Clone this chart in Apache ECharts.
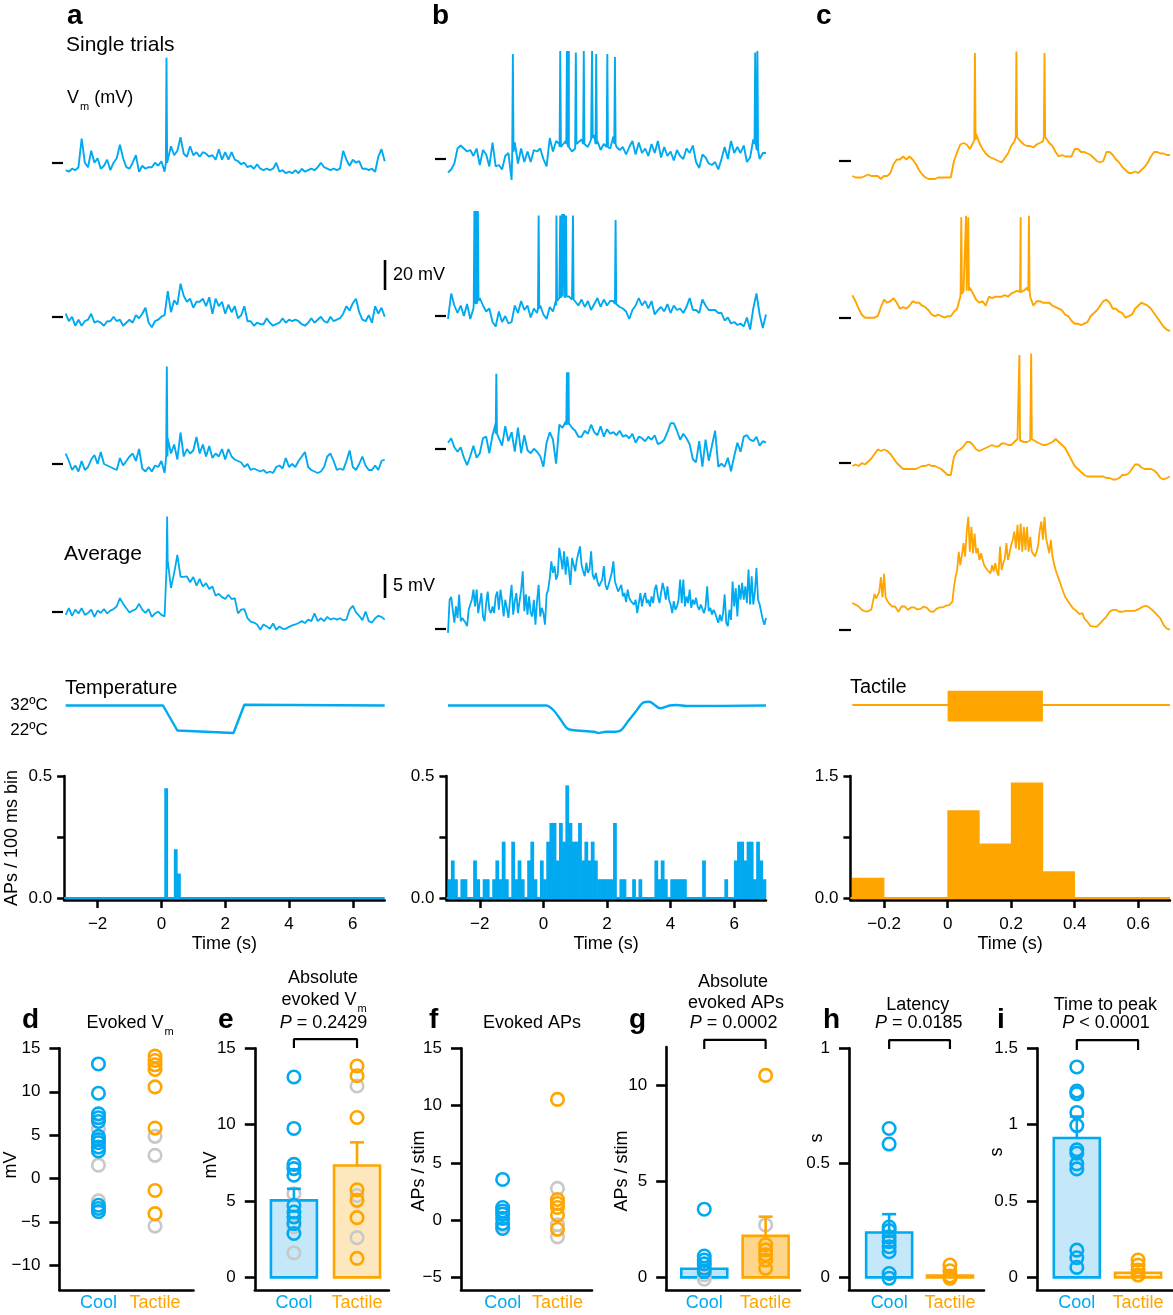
<!DOCTYPE html>
<html>
<head>
<meta charset="utf-8">
<script src="https://cdn.jsdelivr.net/npm/echarts@6/dist/echarts.min.js"></script>
<style>
html,body{margin:0;padding:0;background:#fff;}
#chart{width:1173px;height:1315px;}
</style>
</head>
<body>
<div id="chart"></div>
<script>
// ================= DATA =================
// Membrane potential traces, mV relative to the dash marker, regular sampling.
// Spikes: [time s, peak mV, base mV]
const a1 = [-5,-6,-4,-5,-3,16,0,-3,8,0, 3,-4,-2,2,-5,0,3,12,3,-3, -4,0,5,-6,-2,-4,-3,-3,0,-2, 1,-6,2,11,5,8,17,6,4,11, 5,7,4,7,6,4,5,2,9,2, 7,2,7,2,1,-1,0,-3,-2,-4, -1,-4,-5,-4,-5,-4,0,-6,-5,-7, -6,-7,-5,-7,-4,-6,-5,-4,-5,-3, 0,-3,-4,-5,-4,-5,-4,8,2,-2, 2,0,1,-4,-4,-5,-4,-6,4,9, 1];
const a1Spk = [[0.16,70,0]];
const a2 = [2,-3,0,-6,-2,-6,-3,-2,2,-4, -3,-4,-6,-3,-3,0,-3,-2,-6,-4, -2,-4,1,-1,2,6,-4,-7,-3,-2, 0,1,17,3,11,8,22,14,10,12, 6,10,10,12,7,13,2,12,7,10, 2,8,3,7,-1,1,7,-3,-3,-6, -4,-5,-5,-1,-4,-6,-5,-4,-1,-4, -2,-3,-2,-3,-5,-6,-4,-1,-4,-2, 0,-3,-4,0,-3,-2,-1,2,7,4, 9,12,3,-2,-3,1,-4,7,2,6, 0];
const a2Spk = [];
const a3 = [7,2,-4,-1,-5,2,-4,-2,3,6, 0,8,0,-1,-2,-3,-4,4,-1,2, 5,7,2,10,-3,-5,-2,-5,-1,-2, 2,-6,17,7,13,3,21,5,10,7, 9,18,7,13,5,12,4,7,5,10, 3,10,5,3,2,1,-2,0,-4,-3, -4,-5,-4,-6,-5,-6,-2,-1,-3,4, -2,0,-2,2,5,8,-2,-4,-5,-6, -5,-2,5,7,2,-4,-3,-4,2,9, -2,-4,0,5,-1,-4,-4,-1,-4,2, 3];
const a3Spk = [[0.17,65,5]];
const aAvg = [-0.6,0.8,-0.8,0.5,-0.3,0.8,-0.6,-0.2,0.5,-1.0, 0.3,-0.2,0.6,-0.3,0.3,0.6,1.2,2.9,1.7,0.8, -0.1,0.3,0.6,1.7,0.5,-0.2,0.6,-1.0,-0.3,0.1, -0.6,-0.9,10.6,5.0,8.1,11.9,7.3,7.3,7.4,6.2, 7.3,5.5,6.9,5.3,6.0,4.8,5.3,3.4,3.8,3.1, 2.7,3.6,2.7,2.9,-0.3,0.5,0.6,-1.3,-2.0,-2.2, -2.6,-3.7,-2.6,-3.0,-3.5,-2.4,-3.7,-3.0,-3.5,-3.5, -3.1,-2.8,-2.6,-2.3,-1.9,-2.3,-1.6,-1.9,-0.3,-1.9, -1.3,-1.9,-1.0,-1.6,-1.3,-1.6,-1.3,-1.7,-1.6,0.5, 1.3,-0.1,-0.8,-1.7,0.1,-1.9,-2.2,-1.3,-0.8,-1.0, -1.6];
const aAvgSpk = [[0.18,19.9,9]];

const b1 = [-9,-7,-3,7,9,7,5,6,2,7, -4,6,3,-5,11,-5,-4,-7,2,4, -14,11,-3,7,-2,5,-2,6,5,7, 0,-5,14,5,12,10,8,12,8,5, 7,11,13,10,8,13,16,12,6,10, 7,7,15,8,6,8,3,8,12,3, 11,4,7,2,10,4,12,1,8,2, 5,-1,6,2,0,7,4,9,-2,-6, 3,1,-3,-4,-2,-7,0,8,0,12, 4,8,4,9,-2,1,13,11,0,4, 4];
const b1Spk = [[-0.96,70,5],[0.53,72,8],[0.74,72,10],[0.80,72,8],[1.02,71,10],[1.27,72,10],[1.53,72,14],[1.66,70,10],[2.01,70,8],[2.25,68,10],[6.66,71,10],[6.73,72,6]];
const b2 = [-2,15,7,2,7,0,8,-2,5,10, 12,7,3,5,-4,-7,3,-4,0,-5, -4,7,2,10,4,7,-1,5,2,7, 1,-2,6,3,7,12,13,13,13,11, 12,7,11,6,10,4,8,12,6,11, 7,10,10,8,6,5,3,-2,4,7, 12,7,10,5,10,1,4,6,3,8, 2,7,4,5,2,6,12,4,4,2, 11,7,4,4,4,2,2,-3,-1,-5, -4,-6,-5,-7,-1,-9,5,15,1,-8, 1];
const b2Spk = [[-2.17,70,8],[-2.12,70,8],[-2.06,70,10],[-0.15,67,5],[0.41,67,10],[0.53,67,12],[0.59,68,12],[0.65,68,12],[0.71,67,13],[0.93,67,11],[2.27,64,8]];
const b3 = [4,7,1,-2,1,-6,-11,-5,2,-6, -3,7,8,-3,9,17,9,2,15,5, 11,-2,14,-3,9,-1,-3,0,-2,-5, -12,4,11,6,-10,16,14,18,17,14, 12,8,8,12,10,16,11,9,15,8, 13,10,11,9,12,8,9,7,10,4, 8,7,5,8,6,9,3,4,6,11, 17,17,12,6,10,7,3,-7,-9,5, -12,6,-8,2,12,-12,-10,-12,-6,-15, -5,4,-2,8,9,6,5,8,2,5, 4];
const b3Spk = [[-1.48,50,10],[0.74,51,16],[0.79,51,16]];
const bAvg = [-0.8,6.1,6.7,4.0,1.3,4.7,2.3,7.2,1.6,2.3, 2.6,1.3,0.6,4.0,5.1,6.1,8.2,4.7,8.2,3.3, 5.4,7.5,2.6,1.6,5.4,7.8,4.0,3.3,4.7,3.3, 6.8,7.8,4.0,8.2,5.8,2.6,6.1,4.4,2.3,6.1, 9.2,3.0,5.8,7.5,3.3,3.3,8.2,12.0,3.7,7.2, 3.0,6.8,3.3,2.6,6.1,0.9,5.8,9.2,2.6,4.4, 3.3,0.9,7.2,8.2,10.6,14.1,11.7,13.1,10.3,11.3, 16.9,14.8,12.4,16.2,11.3,15.1,12.4,9.2,14.8,13.4, 12.0,14.4,14.4,17.2,13.4,12.0,11.0,13.8,11.7,12.4, 16.2,11.3,10.3,11.7,9.9,8.9,8.9,10.3,13.1,9.2, 8.2,9.2,9.6,11.7,14.1,9.9,10.3,7.8,8.2,9.2, 6.8,7.5,5.6,8.2,6.5,5.8,6.1,5.1,6.1,3.3, 5.4,7.5,4.7,6.5,7.5,5.4,6.1,4.7,6.8,5.4, 8.2,9.2,6.8,5.4,7.5,9.6,8.2,6.1,8.9,6.1, 5.1,3.3,5.8,4.0,4.7,6.1,10.3,5.4,10.3,4.7, 6.8,5.4,8.2,4.4,6.1,5.1,6.5,4.7,4.0,5.1, 4.7,3.3,4.7,8.9,3.7,4.4,3.0,4.0,3.3,2.3, 1.3,3.0,1.6,3.3,7.2,1.3,0.6,4.0,1.9,9.9, 4.7,8.5,2.6,9.2,6.1,9.6,6.1,8.9,5.4,12.4, 5.1,11.0,5.1,7.8,12.7,6.1,5.1,5.1,1.9,0.9, 2.3];
const bAvgSpk = [];

const c1 = [-10,-11,-11,-11,-10,-9,-10,-10,-10,-12, -10,-10,-8,-2,1,1,3,1,3,1, -2,-6,-9,-11,-12,-12,-12,-11,-11,-11, -11,-11,0,6,11,12,11,8,12,18, 12,8,5,3,2,1,0,-1,2,5, 10,13,16,13,11,10,10,9,11,12, 13,16,12,10,6,3,4,3,3,3, 8,8,6,6,5,4,2,0,-1,0, 6,6,4,1,-1,-4,-6,-8,-8,-7, -8,-6,-4,-1,3,6,6,5,5,4, 4];
const c1Spk = [[0.086,72,14],[0.2165,73,16],[0.305,72,16]];
const c2 = [15,11,6,2,0,0,0,0,1,7, 12,10,11,13,10,6,7,6,8,11, 10,10,8,7,5,2,1,2,1,0, 1,1,4,6,14,18,22,20,16,12, 10,11,8,14,13,14,14,14,15,14, 16,17,18,17,18,20,14,8,11,11, 10,10,10,8,7,6,5,2,1,-2, -4,-4,-5,-4,-3,1,3,5,8,11, 12,10,6,6,4,3,0,1,2,6, 8,10,9,8,6,3,0,-3,-6,-8, -9];
const c2Spk = [[0.043,67,16],[0.058,68,18],[0.065,67,18],[0.230,67,17],[0.256,68,18]];
const c3 = [-2,-1,-2,0,-1,1,3,6,9,8, 9,8,6,3,0,-2,-4,-4,-4,-4, -4,-3,-2,-2,-1,-2,-2,-3,-4,-6, -8,-8,4,8,9,11,14,14,12,9, 8,9,10,11,12,11,11,13,13,12, 12,14,16,16,14,14,15,17,14,13, 12,12,13,14,16,14,12,10,6,2, -2,-4,-6,-8,-9,-9,-9,-9,-9,-9, -10,-10,-11,-11,-10,-8,-8,-7,-4,-1, -1,-3,-4,-4,-4,-5,-7,-10,-11,-10, -9];
const c3Spk = [[0.226,72,15],[0.263,73,16]];
const cAvg = [5.6,5.4,5.3,5.2,4.9,4.5,4.2,3.8,3.9,4.0, 3.9,3.8,4.3,5.9,7.5,6.6,6.2,8.0,11.0,6.8, 11.7,6.8,6.1,5.6,5.2,4.9,4.9,4.9,4.3,3.8, 4.0,4.9,4.9,4.9,4.7,4.2,4.3,4.7,4.9,4.7, 4.5,4.3,4.2,4.4,4.5,4.9,5.0,4.6,4.2,3.9, 3.6,3.8,4.0,4.4,4.7,4.7,4.5,4.7,5.0,5.1, 5.1,5.2,5.2,5.9,9.0,11.0,12.5,16.3,13.5,15.6, 18.1,15.3,20.3,23.6,16.3,21.5,16.0,20.1,16.0,17.0, 14.6,16.0,16.3,13.5,13.1,12.5,12.2,11.8,13.5,12.2, 13.9,12.2,11.3,17.4,12.5,13.9,14.9,18.1,14.6,16.0, 17.7,18.8,20.5,17.0,21.9,16.7,22.2,16.3,21.5,16.7, 21.5,16.3,19.4,16.3,16.0,15.3,16.3,17.7,20.8,22.6, 18.8,23.6,19.1,19.4,16.0,18.8,15.3,13.8,12.5,11.5, 10.6,9.7,8.7,7.8,6.9,6.4,5.9,5.4,5.0,4.5, 4.2,4.0,3.8,3.3,3.1,3.5,2.4,2.1,1.7,1.3, 0.8,0.7,0.7,0.7,0.7,1.0,1.4,1.7,2.1,2.4, 2.8,3.1,3.8,4.0,4.2,4.2,4.2,4.0,3.8,3.8, 3.8,3.9,4.0,4.2,4.0,4.2,4.0,3.8,4.0,4.2, 4.3,4.5,4.7,5.0,5.0,4.9,4.9,4.7,4.4,4.2, 3.8,3.5,3.1,2.8,2.4,1.7,1.0,0.7,0.3,0.2, 0.1];
const cAvgSpk = [];

// scale bars (mV, drawn in trace units)
const bar20 = [17.8, 37.8];   // 20 mV
const bar5 = [2.9, 7.9];      // 5 mV
const barT = 7.01;

// stimulus traces
const tempAT = [-3, 0.05, 0.5, 2.26, 2.6, 7];
const tempAV = [32, 32, 22, 21, 32.3, 32];
const tempBT = [-3, 0.08, 0.31, 0.55, 0.74, 0.9, 1.6, 1.72, 1.97, 2.2, 2.43, 2.65, 2.9, 3.13, 3.33, 3.5, 3.66, 3.97, 4.2, 4.5, 7];
const tempBV = [32, 32, 30.2, 26.2, 22.9, 22.2, 21.5, 21, 21.5, 21.5, 22, 25.5, 29.5, 33.1, 33.5, 32.2, 30.9, 32, 32.2, 31.8, 32];
const tactileOn = [0, 0.3];
const tactileEnv = [-1.1, 0.95];

// PSTHs (APs / 100 ms bin)
const haStart = [0.1, 0.4, 0.5];
const haVal = [0.45, 0.2, 0.1];
const hbTrials = 13;
const hbCounts = [1,2,1,0,1,1,0,0,2,1, 0,1,1,0,1,2,1,3,1,0, 3,1,2,1,0,2,3,1,0,2, 1,3,4,4,2,4,3,6,4,3, 3,4,2,3,2,3,2,1,1,1, 1,1,4,0,1,1,0,0,1,0, 1,0,0,0,0,2,1,2,1,0, 1,1,1,1,1,0,0,0,0,0, 2,0,0,0,0,0,0,1,0,0, 2,3,3,2,3,3,1,3,2,1];
const hcStart = [-0.3,-0.2,-0.1,0,0.1,0.2,0.3,0.4,0.5,0.6];
const hcVal = [0.25,0,0,1.08,0.67,1.42,0.33,0,0,0];

// summary panels
const categories = ['Cool', 'Tactile'];
const dCool = [13.2, 9.83, 7.46, 7.02, 6.58, 4.87, 4.5, 4.14, 3.64, 3.2, -3.06, -3.42, -3.79];
const dCoolGrey = [5.75, 1.56, -2.55];
const dTac = [14.1, 13.6, 13.1, 12.56, 10.56, 5.82, -1.35, -4.02];
const dTacGrey = [4.87, 2.69, -5.45];

const eCool = [13.12, 9.75, 7.4, 7.12, 6.69, 4.71, 4.28, 3.95, 3.52, 2.87];
const eCoolGrey = [5.47, 3.3, 1.6];
const eTac = [13.84, 13.2, 10.47, 5.73, 5.04, 3.91, 1.24];
const eTacGrey = [12.53, 5.36, 2.6];
const eMean = [5.04, 7.32];
const eSem = [0.76, 1.52];

const fCool = [3.55, 1.1, 0.8, 0.52, 0.15, -0.29, -0.73];
const fCoolGrey = [-0.44];
const fTac = [10.54, 1.8, 1.45, 1.1, 0.45, -0.8];
const fTacGrey = [2.77, -0.4, -1.46];

const gCool = [3.55, 1.11, 0.9, 0.7, 0.47, 0.29];
const gCoolGrey = [0.12, -0.1];
const gTac = [10.52, 1.7, 1.43, 1.17, 0.9, 0.47];
const gTacGrey = [2.73];
const gMean = [0.45, 2.16];
const gSem = [0.2, 1.0];

const hCool = [0.65, 0.582, 0.22, 0.204, 0.177, 0.156, 0.134, 0.112, 0.017, -0.004];
const hTac = [0.054, 0.029, 0.006, -0.004];
const hMean = [0.196, 0.008];
const hSem = [0.08, 0.01];

const iCool = [1.378, 1.22, 1.203, 1.08, 0.994, 0.835, 0.813, 0.743, 0.71, 0.178, 0.128, 0.065];
const iTac = [0.113, 0.08, 0.048, 0.015];
const iMean = [0.913, 0.03];
const iSem = [0.14, 0.012];

// significance brackets [leg bottom, top] in axis units
const eBracket = [15.02, 15.6];
const gBracket = [11.9, 12.37];
const hBracket = [0.997, 1.036];
const iBracket = [1.489, 1.554];

// ================= CHART =================
const BLUE = '#00A9F0', ORANGE = '#FFA500', GREY = '#C8C8C8', BLACK = '#000';
const FF = '"Liberation Sans", Arial, Helvetica, sans-serif';

const grids = [], xAxes = [], yAxes = [], series = [];
function addGrid(rect, xa, ya) {
  const gi = grids.length;
  grids.push(Object.assign({containLabel: false}, rect));
  xAxes.push(Object.assign({gridIndex: gi, type: 'value'}, xa));
  yAxes.push(Object.assign({gridIndex: gi, type: 'value'}, ya));
  return gi;
}
function fmtNum(v) { return (v < 0 ? '\u2212' : '') + String(Math.abs(v)); }
function traceData(t0, dt, vals, spikes) {
  const pts = vals.map((v, i) => [t0 + i * dt, v]);
  const w = dt * 0.2;
  spikes.forEach(s => { pts.push([s[0] - w, s[2]], [s[0], s[1]], [s[0] + w, s[2]]); });
  pts.sort((p, q) => p[0] - q[0]);
  return pts;
}

const COLS = {
  a: {left: 65.7, width: 319, x: [-3, 7], off: 2.7, len: 11},
  b: {left: 448, width: 318, x: [-3, 7], off: 2, len: 11},
  c: {left: 852.3, width: 317.7, x: [-0.3, 0.7], off: 1.3, len: 12}
};
const traceDefs = [
  ['a', 162.7, a1, a1Spk, false, -3, 0.1, BLUE],
  ['a', 316.7, a2, a2Spk, false, -3, 0.1, BLUE],
  ['a', 464, a3, a3Spk, false, -3, 0.1, BLUE],
  ['a', 612, aAvg, aAvgSpk, true, -3, 0.1, BLUE],
  ['b', 159, b1, b1Spk, false, -3, 0.1, BLUE],
  ['b', 316, b2, b2Spk, false, -3, 0.1, BLUE],
  ['b', 448.7, b3, b3Spk, false, -3, 0.1, BLUE],
  ['b', 629, bAvg, bAvgSpk, true, -3, 0.05, BLUE],
  ['c', 161, c1, c1Spk, false, -0.3, 0.01, ORANGE],
  ['c', 317.7, c2, c2Spk, false, -0.3, 0.01, ORANGE],
  ['c', 463, c3, c3Spk, false, -0.3, 0.01, ORANGE],
  ['c', 630, cAvg, cAvgSpk, true, -0.3, 0.005, ORANGE]
];
const traceGridIdx = [];
traceDefs.forEach(d => {
  const col = COLS[d[0]];
  const yr = d[4] ? [-6.25, 25] : [-20, 80];
  const gi = addGrid({left: col.left, width: col.width, top: d[1] - 120, height: 150},
    {min: col.x[0], max: col.x[1], show: false},
    {min: yr[0], max: yr[1], position: 'left', offset: col.off,
     axisLine: {show: false, onZero: false}, axisLabel: {show: false}, splitLine: {show: false},
     axisTick: {show: true, customValues: [0], length: col.len, lineStyle: {color: BLACK, width: 2.2}}});
  traceGridIdx.push(gi);
  series.push({type: 'line', xAxisIndex: gi, yAxisIndex: gi, data: traceData(d[5], d[6], d[2], d[3]),
    symbol: 'none', silent: true, lineStyle: {color: d[7], width: d[4] ? 1.8 : 1.9}, z: 2});
});
// scale bars
series.push({type: 'line', xAxisIndex: traceGridIdx[1], yAxisIndex: traceGridIdx[1], clip: false,
  data: [[barT, bar20[0]], [barT, bar20[1]]], symbol: 'none', silent: true, lineStyle: {color: BLACK, width: 2.6}});
series.push({type: 'line', xAxisIndex: traceGridIdx[3], yAxisIndex: traceGridIdx[3], clip: false,
  data: [[barT, bar5[0]], [barT, bar5[1]]], symbol: 'none', silent: true, lineStyle: {color: BLACK, width: 2.6}});

// stimulus traces
const gTA = addGrid({left: 65.7, width: 319, top: 690, height: 50}, {min: -3, max: 7, show: false},
  {min: 18.2, max: 38.2, axisLine: {show: false, onZero: false}, axisTick: {show: false}, splitLine: {show: false},
   axisLabel: {customValues: [22, 32], formatter: v => v + '\u00BAC', fontSize: 17, color: BLACK, fontFamily: FF, margin: 18,
     padding: [6, 0, 0, 0]}});
series.push({type: 'line', xAxisIndex: gTA, yAxisIndex: gTA, data: tempAT.map((t, k) => [t, tempAV[k]]),
  symbol: 'none', silent: true, lineStyle: {color: BLUE, width: 2.4}});
const gTB = addGrid({left: 448, width: 318, top: 690, height: 50}, {min: -3, max: 7, show: false},
  {min: 18.2, max: 38.2, show: false});
series.push({type: 'line', xAxisIndex: gTB, yAxisIndex: gTB, data: tempBT.map((t, k) => [t, tempBV[k]]),
  symbol: 'none', silent: true, smooth: 0.3, lineStyle: {color: BLUE, width: 2.4}});
const gTC = addGrid({left: 852.3, width: 317.7, top: 690, height: 50}, {min: -0.3, max: 0.7, show: false},
  {min: -2.333, max: 1, show: false});
series.push({type: 'line', xAxisIndex: gTC, yAxisIndex: gTC, data: [[-0.3, 0], [0.7, 0]],
  symbol: 'none', silent: true, lineStyle: {color: ORANGE, width: 2.2},
  markArea: {silent: true, itemStyle: {color: ORANGE, opacity: 1},
    data: [[{coord: [tactileOn[0], tactileEnv[0]]}, {coord: [tactileOn[1], tactileEnv[1]]}]]}});

// histograms
function xHist(min, max, ticks) {
  return {min, max,
    axisLine: {show: true, onZero: false, lineStyle: {color: BLACK, width: 2.5}},
    axisTick: {show: true, customValues: ticks, length: 8, lineStyle: {color: BLACK, width: 2.5}},
    axisLabel: {customValues: ticks, formatter: fmtNum, fontSize: 17, color: BLACK, fontFamily: FF, margin: 16},
    splitLine: {show: false}, name: 'Time (s)', nameLocation: 'middle', nameGap: 35,
    nameTextStyle: {fontSize: 18, color: BLACK, fontFamily: FF}};
}
function yHist(min, max, ticks, labels) {
  return {min, max,
    axisLine: {show: true, onZero: false, lineStyle: {color: BLACK, width: 2.5}},
    axisTick: {show: true, customValues: ticks, length: 7, lineStyle: {color: BLACK, width: 2.5}},
    axisLabel: {customValues: labels, formatter: v => v.toFixed(1), fontSize: 17, color: BLACK, fontFamily: FF, margin: 12},
    splitLine: {show: false}};
}
function histSeries(gi, starts, vals, width, color) {
  return {type: 'custom', xAxisIndex: gi, yAxisIndex: gi, silent: true, z: 3,
    data: starts.map((s, k) => [s, s + width, vals[k]]).filter(d => d[2] > 0),
    renderItem: (p, api) => {
      const a = api.coord([api.value(0), 0]), b = api.coord([api.value(1), api.value(2)]);
      return {type: 'rect', shape: {x: a[0] - 0.3, y: b[1], width: b[0] - a[0] + 0.6, height: a[1] - b[1]}, style: {fill: color}};
    }};
}
function baseLine(gi, x0, x1, color) {
  return {type: 'line', xAxisIndex: gi, yAxisIndex: gi, data: [[x0, 0], [x1, 0]], symbol: 'none', silent: true, z: 3,
    lineStyle: {color: color, width: 2.2}};
}
const gHA = addGrid({left: 64.1, width: 320.6, top: 776, height: 124}, xHist(-3.05, 7, [-2, 0, 2, 4, 6]), yHist(-0.0082, 0.5, [0, 0.25, 0.5], [0, 0.5]));
series.push(baseLine(gHA, -3.05, 7, BLUE));
series.push(histSeries(gHA, haStart, haVal, 0.1, BLUE));
const gHB = addGrid({left: 446.4, width: 319.6, top: 776, height: 124}, xHist(-3.05, 7, [-2, 0, 2, 4, 6]), yHist(-0.0082, 0.5, [0, 0.25, 0.5], [0, 0.5]));
series.push(baseLine(gHB, -3.05, 7, BLUE));
series.push(histSeries(gHB, hbCounts.map((c, j) => -3 + 0.1 * j), hbCounts.map(c => c / hbTrials), 0.1, BLUE));
const gHC = addGrid({left: 850.4, width: 319.6, top: 776, height: 124}, xHist(-0.306, 0.7, [-0.2, 0, 0.2, 0.4, 0.6]), yHist(-0.0246, 1.5, [0, 0.75, 1.5], [0, 1.5]));
series.push(baseLine(gHC, -0.306, 0.7, ORANGE));
series.push(histSeries(gHC, hcStart, hcVal, 0.1, ORANGE));

// summary panels
const PANELS = [
  {left: 59.4, top: 1048.3, width: 134.1, height: 241.7, x: [-0.69, 1.68], y: [-12.8, 15], ticks: [-10, -5, 0, 5, 10, 15],
   pts: [[dCoolGrey, 0, GREY], [dCool, 0, BLUE], [dTacGrey, 1, GREY], [dTac, 1, ORANGE]]},
  {left: 254.8, top: 1048.3, width: 134.1, height: 241.7, x: [-0.62, 1.505], y: [-0.83, 15], ticks: [0, 5, 10, 15],
   mean: eMean, sem: eSem, fills: ['#C4E8FA', '#FDE8BE'], bracket: eBracket,
   pts: [[eCoolGrey, 0, GREY], [eCool, 0, BLUE], [eTacGrey, 1, GREY], [eTac, 1, ORANGE]]},
  {left: 461, top: 1048.3, width: 131, height: 241.7, x: [-0.76, 1.63], y: [-6.1, 15], ticks: [-5, 0, 5, 10, 15],
   pts: [[fCoolGrey, 0, GREY], [fCool, 0, BLUE], [fTacGrey, 1, GREY], [fTac, 1, ORANGE]]},
  {left: 666.2, top: 1047, width: 133.8, height: 243, x: [-0.62, 1.56], y: [-0.66, 12], ticks: [0, 5, 10],
   mean: gMean, sem: gSem, fills: ['#BDE6FA', '#FDD68C'], bracket: gBracket,
   pts: [[gCoolGrey, 0, GREY], [gCool, 0, BLUE], [gTacGrey, 1, GREY], [gTac, 1, ORANGE]]},
  {left: 849, top: 1048.3, width: 135, height: 241.7, x: [-0.66, 1.56], y: [-0.055, 1], ticks: [0, 0.5, 1],
   mean: hMean, sem: hSem, fills: ['#C4E8FA', '#FDE8BE'], bracket: hBracket,
   pts: [[hCool, 0, BLUE], [hTac, 1, ORANGE]]},
  {left: 1037, top: 1048.3, width: 136, height: 241.7, x: [-0.65, 1.57], y: [-0.083, 1.5], ticks: [0, 0.5, 1, 1.5],
   mean: iMean, sem: iSem, fills: ['#C4E8FA', '#FDE8BE'], bracket: iBracket,
   pts: [[iCool, 0, BLUE], [iTac, 1, ORANGE]]}
];
const catColor = [BLUE, ORANGE];
PANELS.forEach(P => {
  const gi = addGrid({left: P.left, top: P.top, width: P.width, height: P.height},
    {min: P.x[0], max: P.x[1],
     axisLine: {show: true, onZero: false, lineStyle: {color: BLACK, width: 2.6}},
     axisTick: {show: false}, splitLine: {show: false},
     axisLabel: {customValues: [0, 1], margin: 4, formatter: v => v === 0 ? '{c|' + categories[0] + '}' : '{t|' + categories[1] + '}',
       rich: {c: {color: BLUE, fontSize: 18, fontFamily: FF}, t: {color: ORANGE, fontSize: 18, fontFamily: FF}}}},
    {min: P.y[0], max: P.y[1],
     axisLine: {show: true, onZero: false, lineStyle: {color: BLACK, width: 2.6}},
     axisTick: {show: true, customValues: P.ticks, length: 10, lineStyle: {color: BLACK, width: 2.6}},
     axisLabel: {customValues: P.ticks, formatter: fmtNum, fontSize: 17, color: BLACK, fontFamily: FF, margin: 19},
     splitLine: {show: false}});
  if (P.mean) {
    series.push({type: 'custom', xAxisIndex: gi, yAxisIndex: gi, silent: true, z: 2,
      data: P.mean.map((m, k) => [k, m]),
      renderItem: (p, api) => {
        const k = api.value(0), m = api.value(1);
        const c0 = api.coord([k, 0]), c1 = api.coord([k, m]);
        const hw = 23;
        return {type: 'rect', shape: {x: c0[0] - hw, y: Math.min(c0[1], c1[1]), width: 2 * hw, height: Math.max(Math.abs(c0[1] - c1[1]), 0.5)},
          style: {fill: P.fills[k], stroke: catColor[k], lineWidth: 2.6}};
      }});
  }
  P.pts.forEach(pp => {
    series.push({type: 'scatter', xAxisIndex: gi, yAxisIndex: gi, silent: true, z: 4,
      data: pp[0].map(v => [pp[1], v]), symbol: 'circle', symbolSize: 12.5,
      itemStyle: {color: 'rgba(255,255,255,0)', borderColor: pp[2], borderWidth: 2.6, opacity: 1}});
  });
  if (P.mean) {
    series.push({type: 'custom', xAxisIndex: gi, yAxisIndex: gi, silent: true, z: 5,
      data: P.mean.map((m, k) => [k, m, P.sem[k]]),
      renderItem: (p, api) => {
        const k = api.value(0), m = api.value(1), s = api.value(2);
        const a = api.coord([k, m]), b = api.coord([k, m + s]);
        return {type: 'group', children: [
          {type: 'line', shape: {x1: a[0], y1: a[1], x2: b[0], y2: b[1]}, style: {stroke: catColor[k], lineWidth: 2.6}},
          {type: 'line', shape: {x1: b[0] - 7, y1: b[1], x2: b[0] + 7, y2: b[1]}, style: {stroke: catColor[k], lineWidth: 2.6}}
        ]};
      }});
  }
  if (P.bracket) {
    series.push({type: 'line', xAxisIndex: gi, yAxisIndex: gi, clip: false, silent: true, symbol: 'none', z: 5,
      data: [[0, P.bracket[0]], [0, P.bracket[1]], [1, P.bracket[1]], [1, P.bracket[0]]],
      lineStyle: {color: BLACK, width: 2.2}});
  }
});

// ================= TEXT =================
function txt(x, y, text, size, o) {
  o = o || {};
  const el = {type: 'text', x: x, y: y, silent: true, z: 10,
    style: {text: text, fill: o.color || BLACK, fontSize: size, fontFamily: FF, fontWeight: o.bold ? 'bold' : 'normal',
      align: o.align || 'left', verticalAlign: 'middle'}};
  if (o.rich) el.style.rich = o.rich;
  if (o.rot) el.rotation = o.rot;
  return el;
}
const SUB = {s: {fontSize: 11, fontFamily: FF, fill: BLACK, padding: [17, 0, 0, 1]}, i: {fontSize: 18, fontFamily: FF, fill: BLACK, fontStyle: 'italic'}};
const R90 = Math.PI / 2;
const graphic = [
  txt(67, 16, 'a', 28, {bold: 1}), txt(432, 16, 'b', 28, {bold: 1}), txt(816, 16, 'c', 28, {bold: 1}),
  txt(66, 45, 'Single trials', 21),
  txt(67, 98, 'V{s|m} (mV)', 18, {rich: SUB}),
  txt(64, 554, 'Average', 21),
  txt(393, 275, '20 mV', 18),
  txt(393, 586, '5 mV', 18),
  txt(65, 688, 'Temperature', 20),
  txt(850, 687, 'Tactile', 20),
  txt(12, 838, 'APs / 100 ms bin', 18, {align: 'center', rot: R90}),
  txt(22, 1020, 'd', 28, {bold: 1}), txt(218, 1020, 'e', 28, {bold: 1}), txt(429, 1020, 'f', 28, {bold: 1}),
  txt(629, 1020, 'g', 28, {bold: 1}), txt(823, 1020, 'h', 28, {bold: 1}), txt(997, 1020, 'i', 28, {bold: 1}),
  txt(130, 1023, 'Evoked V{s|m}', 18, {align: 'center', rich: SUB}),
  txt(323, 978, 'Absolute', 18, {align: 'center'}),
  txt(324, 1000, 'evoked V{s|m}', 18, {align: 'center', rich: SUB}),
  txt(323.5, 1023, '{i|P} = 0.2429', 18, {align: 'center', rich: SUB}),
  txt(532, 1023, 'Evoked APs', 18, {align: 'center'}),
  txt(733, 982, 'Absolute', 18, {align: 'center'}),
  txt(736, 1003, 'evoked APs', 18, {align: 'center'}),
  txt(733.6, 1023, '{i|P} = 0.0002', 18, {align: 'center', rich: SUB}),
  txt(917.7, 1005, 'Latency', 18, {align: 'center'}),
  txt(918.8, 1023, '{i|P} = 0.0185', 18, {align: 'center', rich: SUB}),
  txt(1105.4, 1005, 'Time to peak', 18, {align: 'center'}),
  txt(1106, 1023, '{i|P} < 0.0001', 18, {align: 'center', rich: SUB}),
  txt(11.5, 1165, 'mV', 18, {align: 'center', rot: R90}),
  txt(210.7, 1165, 'mV', 18, {align: 'center', rot: R90}),
  txt(419.5, 1171, 'APs / stim', 18, {align: 'center', rot: R90}),
  txt(621.6, 1171, 'APs / stim', 18, {align: 'center', rot: R90}),
  txt(816.8, 1138, 's', 18, {align: 'center', rot: R90}),
  txt(997, 1152, 's', 18, {align: 'center', rot: R90})
];

const chart = echarts.init(document.getElementById('chart'), null, {renderer: 'canvas', width: 1173, height: 1315});
chart.setOption({
  animation: false,
  backgroundColor: '#fff',
  grid: grids, xAxis: xAxes, yAxis: yAxes, series: series, graphic: graphic
});
</script>
</body>
</html>
